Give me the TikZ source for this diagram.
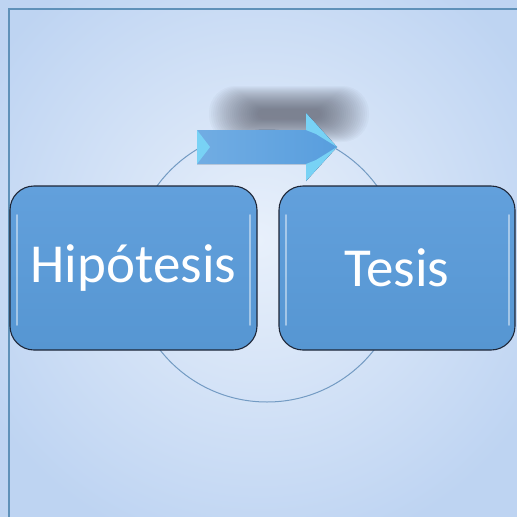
\documentclass[tikz,border=0pt]{standalone}
\usepackage{fontspec}
\setmainfont{Carlito}
\definecolor{bgout}{RGB}{190,212,242}
\definecolor{bgin}{RGB}{232,240,251}
\definecolor{frameblue}{RGB}{95,145,185}
\definecolor{boxtop}{RGB}{98,160,220}
\definecolor{boxbot}{RGB}{86,150,210}
\definecolor{boxedge}{RGB}{30,38,55}
\definecolor{ringcol}{RGB}{115,155,195}
\definecolor{arrowblue}{RGB}{88,158,222}
\definecolor{bevel}{RGB}{120,210,245}
\definecolor{shadowcol}{RGB}{80,82,95}
\tikzset{
  stepbox/.style={draw=boxedge, line width=1.1pt, rounded corners=24pt,
    top color=boxtop, bottom color=boxbot, text=white,
    minimum height=164pt, inner sep=0pt,
    font=\fontsize{55}{66}\selectfont},
  gloss/.style={white, line width=1.6pt, opacity=0.45, line cap=round},
}
\begin{document}
\begin{tikzpicture}[x=1pt,y=-1pt]
\useasboundingbox (0,0) rectangle (517,517);
% background
\shade[inner color=bgin, outer color=bgout] (-60,-80) rectangle (577,560);
\draw[frameblue, line width=1.2pt] (9,517) -- (9,9) -- (517,9);
% ring
\draw[ringcol, line width=1pt] (267,266) circle[radius=136];
% shadow of arrow (soft blur)
\foreach \i in {0,...,23}{
  \pgfmathsetmacro{\w}{80-2.1*\i}
  \pgfmathsetmacro{\h}{28-1.0*\i}
  \fill[shadowcol, opacity=0.04, rounded corners=\h*0.95pt] (289-\w,114-\h) rectangle (289+\w,114+\h);
}
% boxes
\node[stepbox, minimum width=247pt] (hyp) at (133.5,268) {Hipótesis};
\node[stepbox, minimum width=236pt] (tes) at (397,268) {Tesis};
% gloss highlights
\draw[gloss] (17,215) -- (17,325);
\draw[gloss] (250,215) -- (250,325);
\draw[gloss] (286,215) -- (286,325);
\draw[gloss] (509,215) -- (509,325);
% block arrow between boxes
\coordinate (a0) at (197,130);
\coordinate (a1) at (306,130);
\coordinate (a2) at (306,113);
\coordinate (tip) at (337,147);
\coordinate (a4) at (306,181);
\coordinate (a5) at (306,164);
\coordinate (a6) at (197,164);
\fill[left color=arrowblue!85!white, right color=arrowblue] (a0) -- (a1) -- (a2) -- (tip) -- (a4) -- (a5) -- (a6) -- cycle;
\fill[bevel] (a0) -- (210,147) -- (a6) -- cycle;
\fill[bevel] (a2) -- (tip) -- (316,134) -- (306,130) -- cycle;
\fill[bevel] (a4) -- (tip) -- (316,160) -- (306,164) -- cycle;
\end{tikzpicture}
\end{document}
